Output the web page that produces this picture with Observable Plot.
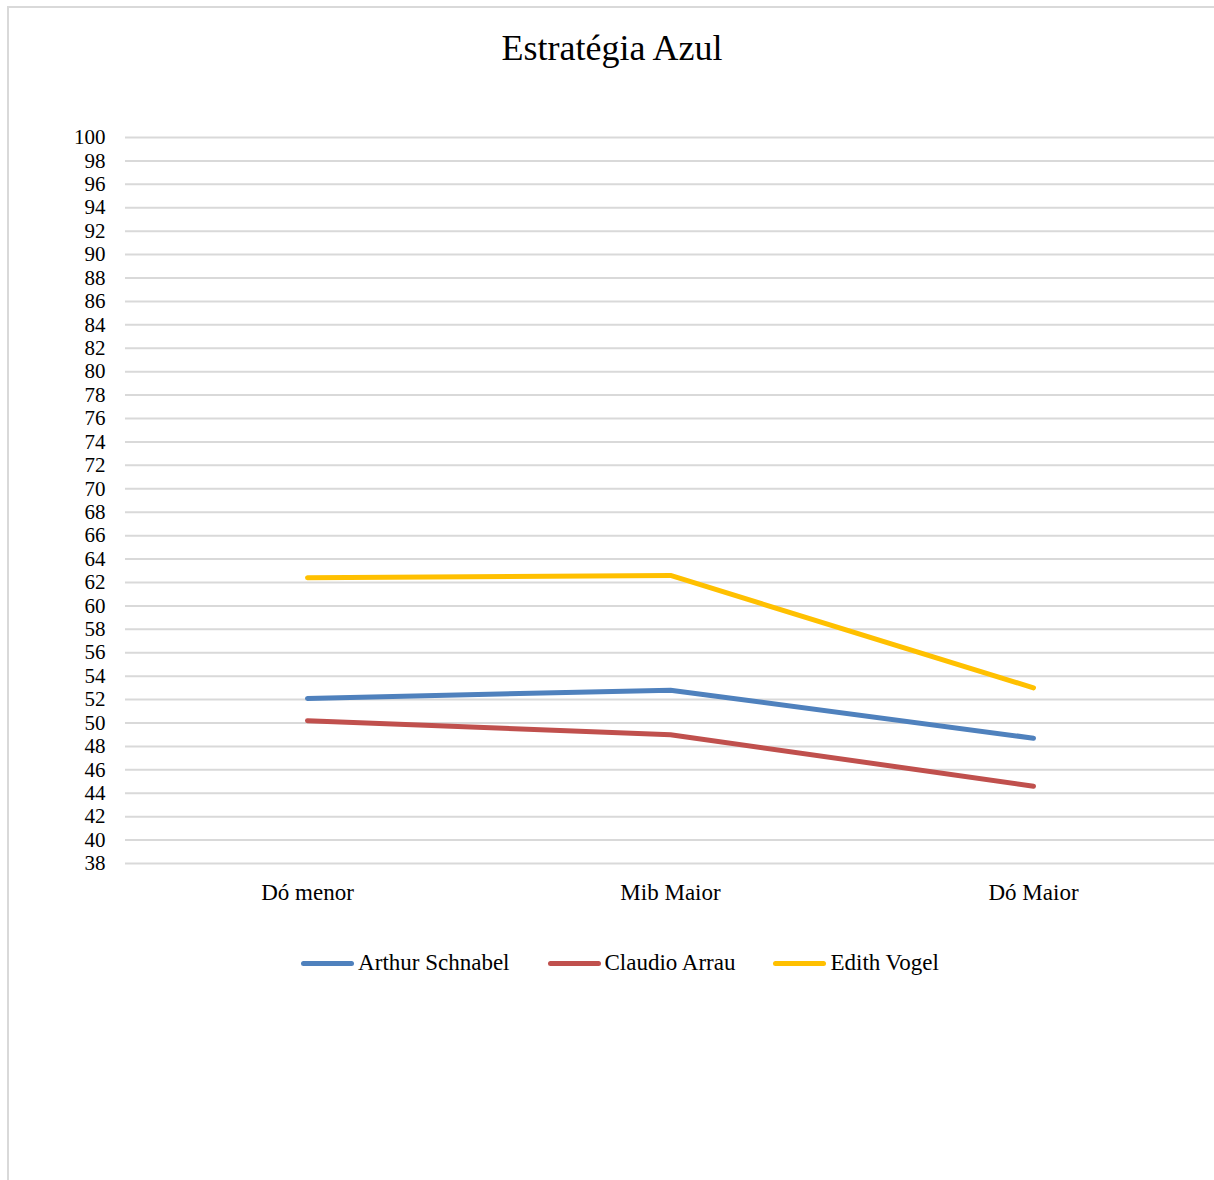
<!DOCTYPE html>
<html>
<head>
<meta charset="utf-8">
<script src="https://cdn.jsdelivr.net/npm/d3@7"></script>
<script src="https://cdn.jsdelivr.net/npm/@observablehq/plot@0.6"></script>
<style>
  html, body { margin: 0; padding: 0; background: #fff; }
  body { width: 1214px; height: 1180px; position: relative; overflow: hidden; font-family: "Liberation Serif", "DejaVu Serif", serif; color: #000; }
  #frame { position: absolute; left: 7px; top: 6px; width: 1220px; height: 1200px; border-top: 2px solid #d9d9d9; border-left: 2px solid #d9d9d9; }
  #title { position: absolute; top: 27px; left: 0; width: 1224px; text-align: center; font-size: 36px; color: #000; }
  #chart { position: absolute; left: 0; top: 100px; }
  #legend { position: absolute; top: 950px; left: 0; width: 1240px; display: flex; justify-content: center; gap: 38px; font-size: 23px; }
  .item { display: flex; align-items: center; }
  .sw { width: 53px; height: 5px; border-radius: 3px; margin-right: 4px; }
</style>
</head>
<body>
<div id="frame"></div>
<div id="title">Estratégia Azul</div>
<div id="chart"></div>
<div id="legend"></div>
<script>
const categories = ["Dó menor", "Mib Maior", "Dó Maior"];
const seriesNames = ["Arthur Schnabel", "Claudio Arrau", "Edith Vogel"];
const seriesColors = ["#4f81bd", "#c0504d", "#ffc000"];
const schnabel = [52.1, 52.8, 48.7];
const arrau = [50.2, 49.0, 44.6];
const vogel = [62.4, 62.6, 53.0];
const yTicks = [38, 40, 42, 44, 46, 48, 50, 52, 54, 56, 58, 60, 62, 64, 66, 68, 70, 72, 74, 76, 78, 80, 82, 84, 86, 88, 90, 92, 94, 96, 98, 100];

const seriesValues = [schnabel, arrau, vogel];
const data = [];
seriesNames.forEach((s, i) => categories.forEach((c, j) => data.push({series: s, cat: c, value: seriesValues[i][j]})));

const plot = Plot.plot({
  width: 1214,
  height: 820,
  marginTop: 37,
  marginBottom: 57,
  marginLeft: 125,
  marginRight: 0,
  style: { fontFamily: "Liberation Serif, DejaVu Serif, serif", fontSize: "21px", color: "#000", background: "transparent" },
  x: { type: "point", domain: categories, padding: 0.5 },
  y: { domain: [38, 100] },
  color: { domain: seriesNames, range: seriesColors },
  marks: [
    Plot.gridY(yTicks, { stroke: "#d9d9d9", strokeOpacity: 1, strokeWidth: 2 }),
    Plot.axisY(yTicks, { tickSize: 0, tickPadding: 20, label: null, fontSize: 21, fill: "#000" }),
    Plot.axisX({ tickSize: 0, tickPadding: 20, label: null, fontSize: 23, fill: "#000" }),
    Plot.line(data, { x: "cat", y: "value", stroke: "series", strokeWidth: 5, strokeLinecap: "round", strokeLinejoin: "round" })
  ]
});
document.getElementById("chart").appendChild(plot);

const legend = document.getElementById("legend");
seriesNames.forEach((s, i) => {
  const item = document.createElement("div");
  item.className = "item";
  const sw = document.createElement("div");
  sw.className = "sw";
  sw.style.background = seriesColors[i];
  const t = document.createElement("span");
  t.textContent = s;
  item.appendChild(sw);
  item.appendChild(t);
  legend.appendChild(item);
});
</script>
</body>
</html>
